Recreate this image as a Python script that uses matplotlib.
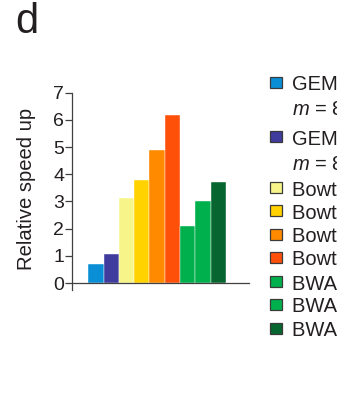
#!/usr/bin/env python3
# -*- coding: utf-8 -*-
import matplotlib
matplotlib.use("Agg")
import matplotlib.pyplot as plt
from matplotlib.patches import Rectangle

# ---------------- Data ----------------
LABELS = [
    "GEM, fast mode\n$m$ = 8%",
    "GEM, fast mode\n$m$ = 8% (GPU)",
    "Bowtie2, 1 thread",
    "Bowtie2, 2 threads",
    "Bowtie2, 4 threads",
    "Bowtie2, 8 threads",
    "BWA, 1 thread",
    "BWA, 2 threads",
    "BWA, 4 threads",
]
SPEEDUP = [0.69, 1.05, 3.11, 3.79, 4.89, 6.17, 2.08, 3.00, 3.73]
COLORS = ["#0a8fd6", "#3f3c9e", "#f7f58a", "#ffd200", "#ff8a00",
          "#ff500a", "#00b04c", "#00b04c", "#07652f"]
YTICKS = [0, 1, 2, 3, 4, 5, 6, 7]

TXT = "#231f20"
W, H = 337, 404

plt.rcParams["font.family"] = ["Liberation Sans", "DejaVu Sans"]
plt.rcParams["mathtext.fontset"] = "custom"
plt.rcParams["mathtext.it"] = "Liberation Sans:italic"
plt.rcParams["mathtext.rm"] = "Liberation Sans"

fig = plt.figure(figsize=(W / 100, H / 100), dpi=100)
ax = fig.add_axes([72.3 / W, 1 - 289.8 / H, (249 - 72.3) / W, (289.8 - 92.7) / H])

x = list(range(len(SPEEDUP)))
ax.bar(x, SPEEDUP, width=1.0, color=COLORS, edgecolor="white", linewidth=0.3)

ax.set_xlim(-1.55, 10.02)
ax.set_ylim(-0.25, 7)
ax.set_yticks(YTICKS)
ax.set_yticklabels([str(t) for t in YTICKS], fontsize=14, color=TXT)
ax.set_xticks([])
ax.tick_params(axis="y", length=5, width=0.9, color="#404040", pad=0.8)

for s in ["top", "right"]:
    ax.spines[s].set_visible(False)
ax.spines["bottom"].set_position(("data", 0))
for s in ["left", "bottom"]:
    ax.spines[s].set_linewidth(0.9)
    ax.spines[s].set_color("#404040")

ax.set_ylabel("Relative speed up", fontsize=14.6, color=TXT)
ax.yaxis.set_label_coords(-0.205, 0.514)

# panel letter
fig.text(15 / W, 1 - 33 / H, "d", fontsize=30, color=TXT, ha="left", va="baseline")

# ---------------- Legend (drawn by hand, clipped at figure edge) ----------------
ROWS = [82.3, 136.7, 187.7, 210.7, 234.3, 257.3, 281.7, 304.0, 328.3]
for y, lab, c in zip(ROWS, LABELS, COLORS):
    fig.add_artist(Rectangle((269.5 / W, 1 - (y + 5.5) / H), 12 / W, 11 / H,
                             transform=fig.transFigure, facecolor=c,
                             edgecolor="#3a3a3a", linewidth=0.9))
    lines = lab.split("\n")
    fig.text(292.5 / W, 1 - y / H, lines[0], fontsize=14.5, color=TXT,
             ha="left", va="center_baseline")
    if len(lines) > 1:
        fig.text(292.5 / W, 1 - (y + 25) / H, lines[1], fontsize=14.5, color=TXT,
                 ha="left", va="center_baseline")

fig.savefig("out.png", dpi=100)
